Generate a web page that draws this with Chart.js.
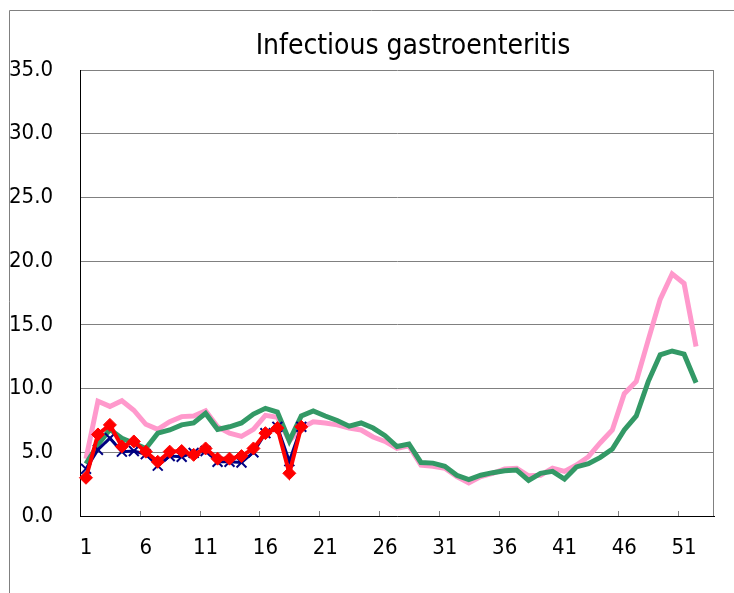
<!DOCTYPE html>
<html>
<head>
<meta charset="utf-8">
<script src="https://cdn.jsdelivr.net/npm/chart.js@4.4.1/dist/chart.umd.min.js"></script>
<style>
  html, body { margin: 0; padding: 0; background: #fff; }
</style>
</head>
<body>
<canvas id="chart" width="734" height="593"></canvas>
<script>
const weeks = ['1','2','3','4','5','6','7','8','9','10','11','12','13','14','15','16','17','18','19','20',
  '21','22','23','24','25','26','27','28','29','30','31','32','33','34','35','36','37','38','39','40',
  '41','42','43','44','45','46','47','48','49','50','51','52','53'];

// last season (pink)
const lastSeason = [4.5, 9.0, 8.6, 9.05, 8.3, 7.2, 6.8, 7.4, 7.8, 7.85,
  8.25, 7.0, 6.5, 6.25, 6.8, 7.9, 7.75, 5.9, 6.9, 7.4,
  7.3, 7.15, 6.9, 6.75, 6.2, 5.85, 5.3, 5.5, 4.0, 3.9,
  3.75, 3.1, 2.6, 3.1, 3.35, 3.7, 3.75, 3.15, 3.2, 3.75,
  3.5, 4.0, 4.65, 5.75, 6.75, 9.6, 10.55, 13.8, 17.0, 19.0,
  18.25, 13.3];

// average (green)
const average = [4.1, 5.6, 6.8, 6.1, 5.7, 5.3, 6.5, 6.75, 7.15, 7.3,
  8.05, 6.8, 7.0, 7.3, 8.0, 8.45, 8.15, 5.9, 7.85, 8.25,
  7.85, 7.5, 7.05, 7.3, 6.9, 6.3, 5.45, 5.65, 4.2, 4.15,
  3.9, 3.2, 2.85, 3.2, 3.4, 3.55, 3.6, 2.8, 3.35, 3.5,
  2.9, 3.85, 4.1, 4.6, 5.25, 6.75, 7.85, 10.55, 12.65, 12.95,
  12.7, 10.45];

// navy crosses
const prevSeries = [3.7, 5.2, 6.1, 5.05, 5.1, 4.85, 3.95, 4.7, 4.65, 4.95,
  5.1, 4.25, 4.25, 4.2, 5.0, 6.5, 7.0, 4.3, 7.0];

// this season (red diamonds)
const thisSeason = [3.0, 6.4, 7.15, 5.45, 5.85, 5.05, 4.25, 5.05, 5.1, 4.8,
  5.3, 4.5, 4.5, 4.7, 5.3, 6.5, 6.9, 3.35, 7.0];

const titleText = 'Infectious gastroenteritis';
const fontFamily = '"Liberation Sans Narrow", "DejaVu Sans Condensed", sans-serif';

Chart.defaults.font.family = fontFamily;
Chart.defaults.color = '#000';

const extras = {
  id: 'extras',
  beforeDraw(chart) {
    const c = chart.ctx;
    c.save();
    c.strokeStyle = '#808080';
    c.lineWidth = 1;
    c.beginPath();
    c.moveTo(9.5, 593);
    c.lineTo(9.5, 10.5);
    c.lineTo(734, 10.5);
    c.stroke();
    c.restore();
  },
  beforeDatasetsDraw(chart) {
    const c = chart.ctx, a = chart.chartArea, x = chart.scales.x;
    c.save();
    c.strokeStyle = '#808080';
    c.lineWidth = 1;
    c.beginPath();
    const r = Math.round(a.right) - 0.5;
    c.moveTo(r, a.top);
    c.lineTo(r, a.bottom);
    // small inside ticks every 5 weeks, between categories
    const half = (x.getPixelForValue(1) - x.getPixelForValue(0)) / 2;
    for (let i = 5; i < weeks.length; i += 5) {
      const px = Math.round(x.getPixelForValue(i) - half) + 0.5;
      c.moveTo(px, a.bottom);
      c.lineTo(px, a.bottom - 5);
    }
    c.stroke();
    c.restore();
  },
  afterDraw(chart) {
    const c = chart.ctx, a = chart.chartArea;
    c.save();
    c.fillStyle = '#000';
    c.font = '28px ' + fontFamily;
    c.textAlign = 'center';
    c.textBaseline = 'middle';
    c.fillText(titleText, (a.left + a.right) / 2 + 16, 47);
    c.restore();
  }
};

new Chart(document.getElementById('chart'), {
  type: 'line',
  data: {
    labels: weeks,
    datasets: [
      {
        label: 'This season',
        data: thisSeason,
        borderColor: '#ff0000',
        backgroundColor: '#ff0000',
        borderWidth: 4,
        pointStyle: 'rectRot',
        pointRadius: 6.5,
        pointBorderWidth: 1
      },
      {
        label: 'Previous',
        data: prevSeries,
        borderColor: '#000080',
        backgroundColor: '#000080',
        borderWidth: 3,
        pointStyle: 'crossRot',
        pointRadius: 7,
        pointBorderWidth: 2
      },
      {
        label: 'Average',
        data: average,
        borderColor: '#339966',
        borderWidth: 5,
        pointRadius: 0
      },
      {
        label: 'Last season',
        data: lastSeason,
        borderColor: '#ff99cc',
        borderWidth: 5,
        pointRadius: 0
      }
    ]
  },
  options: {
    responsive: false,
    animation: false,
    layout: { padding: { top: 70, right: 20, left: 0, bottom: 0 } },
    plugins: {
      legend: { display: false },
      tooltip: { enabled: false },
      title: { display: false }
    },
    elements: { line: { tension: 0 } },
    scales: {
      x: {
        offset: true,
        grid: { display: false, drawTicks: false },
        border: { display: true, color: '#000', width: 1 },
        ticks: {
          autoSkip: false,
          maxRotation: 0,
          padding: 19,
          font: { size: 22 },
          callback: function (v, i) { return i % 5 === 0 ? this.getLabelForValue(v) : ''; }
        },
        afterFit: s => { s.height = 77; }
      },
      y: {
        min: 0,
        max: 35,
        ticks: {
          stepSize: 5,
          padding: 27,
          font: { size: 22 },
          callback: v => v.toFixed(1)
        },
        grid: { color: '#808080', drawTicks: false },
        border: { display: true, color: '#000', width: 1 },
        afterFit: s => { s.width = 80; }
      }
    }
  },
  plugins: [extras]
});
</script>
</body>
</html>
